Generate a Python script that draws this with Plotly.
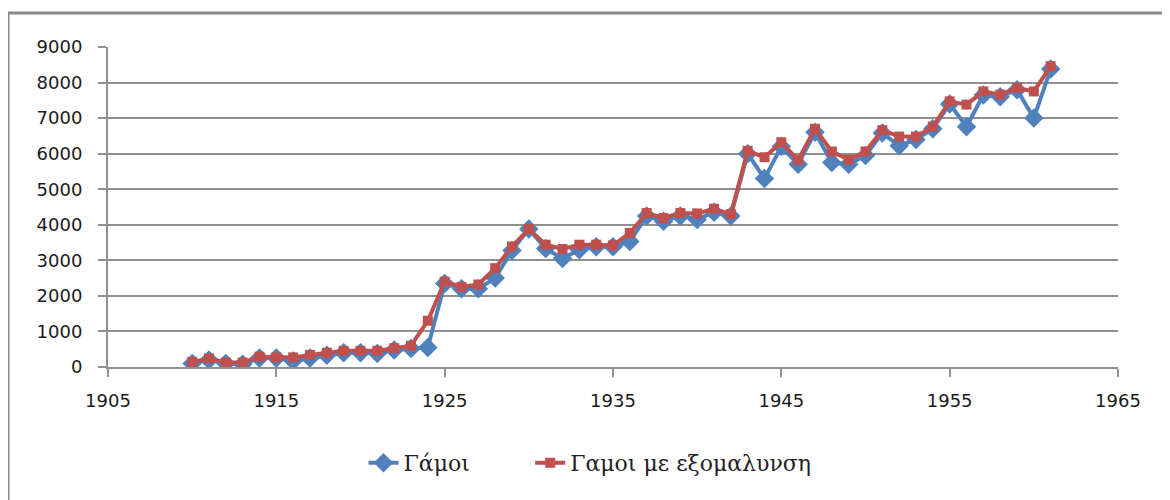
import plotly.graph_objects as go

years = list(range(1910, 1962))
gamoi = [100, 200, 100, 80, 250, 250, 170, 250, 330, 400, 400, 380, 480, 520, 550,
         2350, 2200, 2200, 2500, 3280, 3880, 3330, 3050, 3300, 3380, 3380, 3530,
         4250, 4100, 4250, 4150, 4350, 4250, 6000, 5300, 6200, 5700, 6600, 5750,
         5700, 5950, 6580, 6220, 6400, 6700, 7400, 6760, 7650, 7600, 7800, 7000, 8380]
gamoi_smooth = [145, 240, 125, 125, 290, 270, 270, 340, 400, 455, 455, 455, 530, 600, 1300,
                2400, 2250, 2320, 2780, 3390, 3880, 3440, 3320, 3440, 3440, 3420, 3770,
                4330, 4190, 4330, 4320, 4450, 4300, 6080, 5900, 6320, 5820, 6700, 6060,
                5830, 6060, 6660, 6480, 6480, 6760, 7470, 7380, 7750, 7660, 7850, 7750, 8460]
series_names = ["Γάμοι", "Γαμοι με εξομαλυνση"]
x_ticks = [1905, 1915, 1925, 1935, 1945, 1955, 1965]
y_ticks = [0, 1000, 2000, 3000, 4000, 5000, 6000, 7000, 8000, 9000]

BLUE = "#4F81BD"
RED = "#C0504D"
GRID = "#8f8f8f"

fig = go.Figure()
fig.add_trace(go.Scatter(
    x=years, y=gamoi, name=series_names[0], mode="lines+markers",
    line=dict(color=BLUE, width=4),
    marker=dict(symbol="diamond", size=15, color=BLUE),
    legend="legend",
))
fig.add_trace(go.Scatter(
    x=years, y=gamoi_smooth, name=series_names[1], mode="lines+markers",
    line=dict(color=RED, width=4),
    marker=dict(symbol="square", size=10, color=RED),
    legend="legend2",
))

legend_font = dict(family="DejaVu Serif", size=22, color="#222")
fig.update_layout(
    width=1170, height=500,
    margin=dict(l=100, r=60, t=39, b=141),
    paper_bgcolor="white", plot_bgcolor="white",
    showlegend=True,
    legend=dict(orientation="h", x=0.253, xanchor="left", y=-0.30, yanchor="middle",
                font=legend_font, itemwidth=30),
    legend2=dict(orientation="h", x=0.418, xanchor="left", y=-0.30, yanchor="middle",
                 font=legend_font, itemwidth=30),
    font=dict(family="DejaVu Sans", size=18, color="#1a1a1a"),
)
fig.update_xaxes(
    range=[1905, 1965], tickvals=x_ticks, showgrid=False, zeroline=False,
    showline=True, linecolor=GRID, linewidth=2,
    ticks="outside", ticklen=8, tickwidth=2, tickcolor=GRID,
    ticklabelstandoff=8,
)
fig.update_yaxes(
    range=[0, 9000], tickvals=y_ticks, showgrid=True, gridcolor=GRID, gridwidth=2,
    zeroline=False, showline=True, linecolor=GRID, linewidth=2,
    ticks="outside", ticklen=8, tickwidth=2, tickcolor=GRID,
    ticklabelstandoff=12,
)
fig.add_shape(type="rect", xref="paper", yref="paper",
              x0=-0.099, x1=1.2, y0=-0.6, y1=1.106,
              line=dict(color="#8a8a8a", width=3), layer="below")

fig.write_html("out.html")
